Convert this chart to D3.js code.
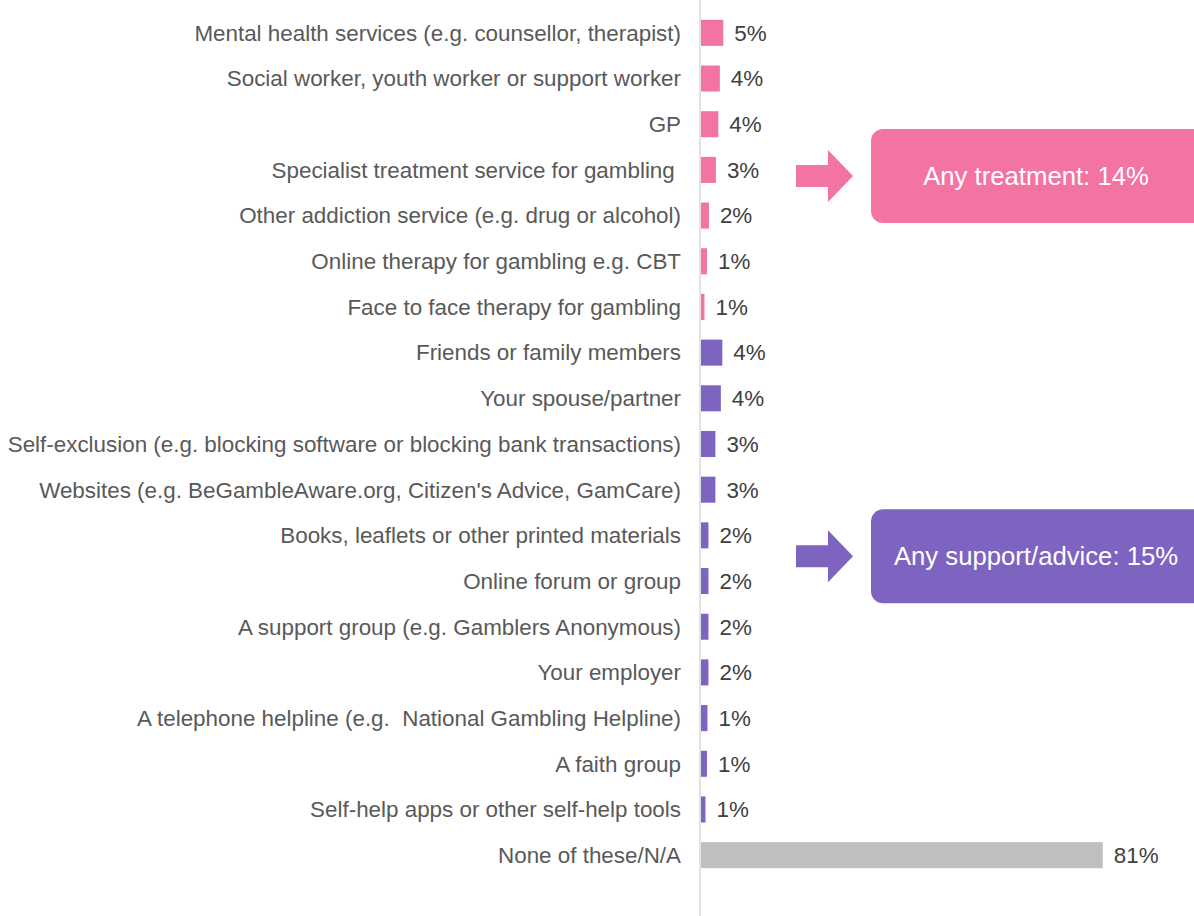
<!DOCTYPE html>
<html>
<head>
<meta charset="utf-8">
<script src="https://cdn.jsdelivr.net/npm/d3@7"></script>
<style>
  body { margin: 0; background: #fff; }
  svg { display: block; font-family: "Liberation Sans", Arial, sans-serif; }
</style>
</head>
<body>
<svg width="1194" height="916"></svg>
<script>
// categories, top to bottom
var categories = [
  "Mental health services (e.g. counsellor, therapist)",
  "Social worker, youth worker or support worker",
  "GP",
  "Specialist treatment service for gambling ",
  "Other addiction service (e.g. drug or alcohol)",
  "Online therapy for gambling e.g. CBT",
  "Face to face therapy for gambling",
  "Friends or family members",
  "Your spouse/partner",
  "Self-exclusion (e.g. blocking software or blocking bank transactions)",
  "Websites (e.g. BeGambleAware.org, Citizen's Advice, GamCare)",
  "Books, leaflets or other printed materials",
  "Online forum or group",
  "A support group (e.g. Gamblers Anonymous)",
  "Your employer",
  "A telephone helpline (e.g.  National Gambling Helpline)",
  "A faith group",
  "Self-help apps or other self-help tools",
  "None of these/N/A"
];
// estimated underlying values (%)
var values = [4.5, 3.8, 3.5, 3.0, 1.6, 1.2, 0.7, 4.3, 4.0, 2.9, 2.9, 1.5, 1.5, 1.5, 1.5, 1.3, 1.2, 0.9, 81];
// printed labels
var valueLabels = ["5%", "4%", "4%", "3%", "2%", "1%", "1%", "4%", "4%", "3%", "3%", "2%", "2%", "2%", "2%", "1%", "1%", "1%", "81%"];
var groups = ["treatment", "treatment", "treatment", "treatment", "treatment", "treatment", "treatment",
  "support", "support", "support", "support", "support", "support", "support", "support", "support", "support", "support",
  "none"];

// callouts
var calloutText = ["Any treatment: 14%", "Any support/advice: 15%"];
var calloutGroup = ["treatment", "support"];

var colors = { treatment: "#F374A2", support: "#7E63C0", none: "#BFBFBF" };

var svg = d3.select("svg"),
    width = 1194,
    height = 916;

var x = d3.scaleLinear()
    .domain([0, 100])
    .range([701, 1197]);

var y = d3.scaleBand()
    .domain(categories)
    .range([10, 878])
    .paddingInner(0.43)
    .paddingOuter(0.215);

// bars
svg.append("g")
  .selectAll("rect")
  .data(categories)
  .enter()
  .append("rect")
    .attr("x", x(0))
    .attr("y", function(d){ return y(d) })
    .attr("width", function(d, i){ return x(values[i]) - x(0) })
    .attr("height", y.bandwidth())
    .attr("fill", function(d, i){ return colors[groups[i]] })

// axis line
svg.append("line")
    .attr("x1", 700).attr("x2", 700)
    .attr("y1", 0).attr("y2", height)
    .attr("stroke", "#D9D9D9")
    .attr("stroke-width", 1.5)

// category labels
svg.append("g")
  .selectAll("text")
  .data(categories)
  .enter()
  .append("text")
    .attr("x", 681)
    .attr("y", function(d){ return y(d) + y.bandwidth() / 2 })
    .attr("dy", "0.35em")
    .attr("text-anchor", "end")
    .attr("font-size", 22.4)
    .attr("fill", "#595959")
    .style("white-space", "pre")
    .text(function(d){ return d })

// value labels
svg.append("g")
  .selectAll("text")
  .data(categories)
  .enter()
  .append("text")
    .attr("x", function(d, i){ return x(values[i]) + 11 })
    .attr("y", function(d){ return y(d) + y.bandwidth() / 2 })
    .attr("dy", "0.35em")
    .attr("font-size", 22.4)
    .attr("fill", "#404040")
    .text(function(d, i){ return valueLabels[i] })

// callouts: arrow + rounded box, centred near the middle of its group
var anchorRow = [3, 11];
calloutText.forEach(function(t, k) {
  var cy = y(categories[anchorRow[k]]) + y.bandwidth() / 2 + (k == 0 ? 6 : 21);
  var col = colors[calloutGroup[k]];
  var g = svg.append("g");

  g.append("path")
    .attr("d", "M796," + (cy - 11) + "H828V" + (cy - 26) + "L853," + cy + "L828," + (cy + 26) + "V" + (cy + 11) + "H796Z")
    .attr("fill", col)

  g.append("rect")
    .attr("x", 871).attr("y", cy - 47)
    .attr("width", 340).attr("height", 94)
    .attr("rx", 12)
    .attr("fill", col)

  g.append("text")
    .attr("x", 1036)
    .attr("y", cy)
    .attr("dy", "0.35em")
    .attr("text-anchor", "middle")
    .attr("font-size", 25.7)
    .attr("fill", "#fff")
    .text(t)
});
</script>
</body>
</html>
